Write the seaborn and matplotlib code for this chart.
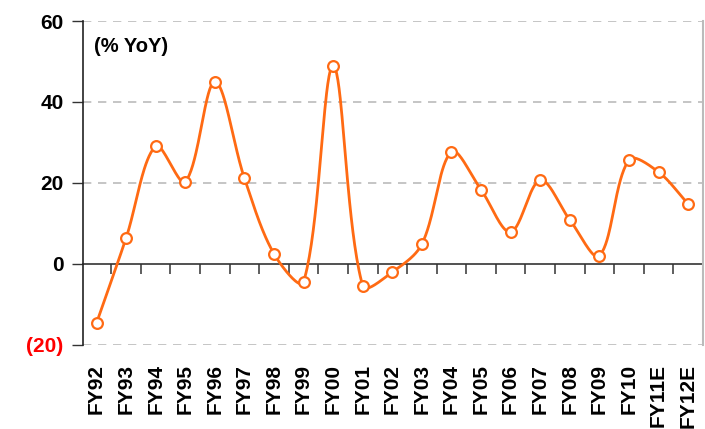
import numpy as np
import pandas as pd
import matplotlib
matplotlib.use("Agg")
import matplotlib.pyplot as plt
import seaborn as sns

categories = ["FY92", "FY93", "FY94", "FY95", "FY96", "FY97", "FY98", "FY99", "FY00",
              "FY01", "FY02", "FY03", "FY04", "FY05", "FY06", "FY07", "FY08", "FY09",
              "FY10", "FY11E", "FY12E"]
growth = [-14.6, 6.4, 29.1, 20.3, 45.0, 21.2, 2.5, -4.4, 48.9,
          -5.4, -2.0, 4.9, 27.7, 18.3, 7.9, 20.7, 10.9, 2.0,
          25.7, 22.7, 14.8]
y_ticks = [-20, 0, 20, 40, 60]
y_tick_labels = ["(20)", "0", "20", "40", "60"]

sns.set_theme(style="white")
plt.rcParams["font.family"] = ["Liberation Sans", "DejaVu Sans"]

color = "#FF6A13"

# Excel-like smoothed line: cubic Bezier, control points scaled by chord length
x = np.arange(len(growth), dtype=float)
y = np.array(growth, dtype=float)
sx, sy = 29.6, 4.05  # approx display scale used only for chord lengths
P = np.column_stack([x, y])
def dist(a, b):
    return np.hypot((a[0] - b[0]) * sx, (a[1] - b[1]) * sy)
xs, ys = [], []
t = np.linspace(0, 1, 40)
n = len(x)
for i in range(n - 1):
    p0 = P[max(i - 1, 0)]; p1 = P[i]; p2 = P[i + 1]; p3 = P[min(i + 2, n - 1)]
    d01, d12, d23 = dist(p0, p1), dist(p1, p2), dist(p2, p3)
    c1 = p1 + (p2 - p0) * (d12 / (d01 + d12)) / 3.0
    c2 = p2 - (p3 - p1) * (d12 / (d12 + d23)) / 3.0
    pts = ((1 - t) ** 3)[:, None] * p1 + (3 * (1 - t) ** 2 * t)[:, None] * c1 + \
          (3 * (1 - t) * t ** 2)[:, None] * c2 + (t ** 3)[:, None] * p2
    xs.extend(pts[:, 0]); ys.extend(pts[:, 1])
curve = pd.DataFrame({"x": xs, "y": ys})
points = pd.DataFrame({"x": x, "y": y})

fig = plt.figure(figsize=(7.05, 4.29), dpi=100)
ax = fig.add_axes([0.118, 0.196, 0.879, 0.755])

for g in [20, 40, 60, -20]:
    ax.axhline(g, color="#BBBBBB", lw=1.2, ls=(0, (5, 4)), zorder=0)

sns.lineplot(data=curve, x="x", y="y", ax=ax, color=color, lw=2.0, sort=False,
             estimator=None, zorder=3)
sns.scatterplot(data=points, x="x", y="y", ax=ax, s=60, facecolor="white",
                edgecolor=color, linewidth=1.6, zorder=4)

ax.set_xlim(-0.45, len(categories) - 0.5)
ax.set_ylim(-20, 60)
ax.set_xlabel("")
ax.set_ylabel("")

ax.set_yticks(y_ticks)
ax.set_yticklabels(y_tick_labels)
for lab in ax.get_yticklabels():
    lab.set_fontweight("bold")
    lab.set_fontsize(15)
    lab.set_color("black")
ax.get_yticklabels()[0].set_color("#FF0000")
ax.tick_params(axis="y", left=True, length=8, width=1, color="#333333", pad=6)

ax.set_xticks(x)
ax.set_xticklabels(categories, rotation=90, fontsize=15, fontweight="bold", color="black")
ax.tick_params(axis="x", bottom=False, length=0, pad=14)

ax.spines["top"].set_visible(False)
ax.spines["bottom"].set_visible(False)
ax.spines["left"].set_color("#222222")
ax.spines["left"].set_linewidth(1.2)
ax.spines["right"].set_color("#BBBBBB")
ax.spines["right"].set_linewidth(1.5)

# zero line with boundary ticks
sec = ax.secondary_xaxis(0.25)
sec.set_xticks(np.arange(len(categories)) + 0.5)
sec.set_xticklabels([])
sec.tick_params(axis="x", direction="out", length=7, width=1.1, color="#333333")
sec.spines["bottom"].set_color("#333333")
sec.spines["bottom"].set_linewidth(1.2)

ax.text(0.018, 0.92, "(% YoY)", transform=ax.transAxes, fontsize=14.5,
        fontweight="bold", ha="left", va="center", color="black")

fig.savefig("out.png", dpi=100)
